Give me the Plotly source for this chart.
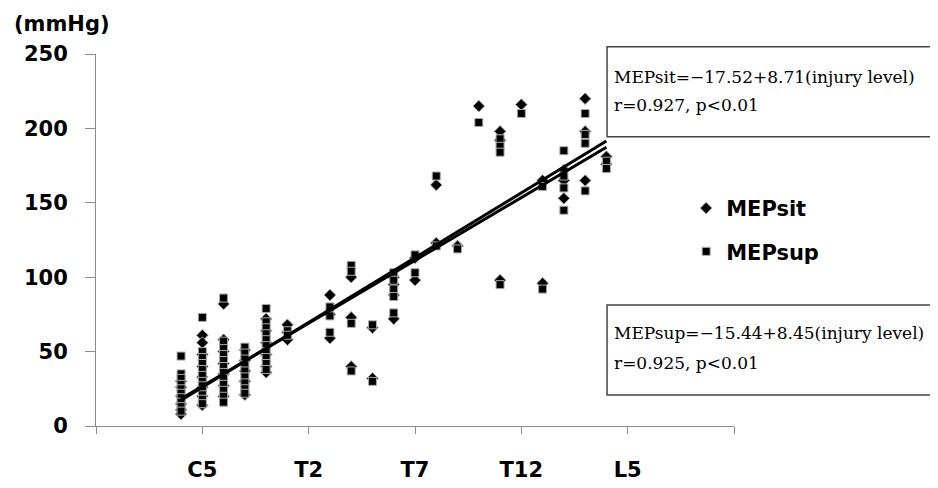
import plotly.graph_objects as go

# ---- data (injury level index: C5=5, T2=10, T7=15, T12=20, L5=25) ----
sit_levels = ([4]*6 + [5]*8 + [6]*7 + [7]*5 + [8]*6 + [9]*3 + [11]*3 + [12]*3 + [13]*2 +
              [14]*4 + [15]*2 + [16]*2 + [17] + [18] + [19]*3 + [20] + [21]*2 + [22]*3 +
              [23]*3 + [24]*2)
sit_values = ([30, 26, 20, 15, 11, 8] +
              [61, 56, 48, 40, 33, 26, 20, 14] +
              [82, 58, 50, 42, 35, 27, 20] +
              [51, 44, 37, 30, 21] +
              [72, 64, 56, 48, 40, 36] +
              [68, 63, 58] +
              [88, 75, 59] +
              [100, 73, 40] +
              [66, 32] +
              [100, 95, 88, 72] +
              [113, 98] +
              [162, 123] +
              [121] +
              [215] +
              [198, 192, 98] +
              [216] +
              [165, 96] +
              [172, 165, 153] +
              [220, 198, 165] +
              [181, 176])

sup_levels = ([4]*10 + [5]*12 + [6]*12 + [7]*9 + [8]*10 + [9]*2 + [11]*3 + [12]*4 + [13]*2 +
              [14]*5 + [15]*2 + [16]*2 + [17] + [18] + [19]*4 + [20] + [21]*2 + [22]*4 +
              [23]*4 + [24]*2)
sup_values = ([47, 35, 32, 28, 25, 22, 19, 16, 13, 10] +
              [73, 50, 46, 42, 38, 34, 30, 27, 24, 21, 18, 15] +
              [86, 57, 52, 48, 44, 40, 36, 32, 28, 24, 20, 16] +
              [53, 49, 45, 41, 37, 33, 29, 25, 22] +
              [79, 70, 66, 62, 58, 54, 50, 46, 42, 38] +
              [64, 61] +
              [80, 74, 63] +
              [108, 104, 69, 37] +
              [68, 30] +
              [103, 98, 92, 87, 76] +
              [115, 103] +
              [168, 121] +
              [119] +
              [204] +
              [193, 188, 184, 95] +
              [210] +
              [161, 92] +
              [185, 168, 160, 145] +
              [210, 196, 190, 158] +
              [178, 173])

# regression equations as reported in the figure
sit_intercept, sit_slope = -17.52, 8.71
sup_intercept, sup_slope = -15.44, 8.45
fit_range = [4, 24]

tick_positions = [0, 5, 10, 15, 20, 25, 30]
tick_labels = ["", "C5", "T2", "T7", "T12", "L5", ""]

fig = go.Figure()
fig.add_trace(go.Scatter(
    x=sit_levels, y=sit_values, mode="markers", name="MEPsit", legendgroup="sit",
    marker=dict(symbol="diamond", size=9, color="black",
                line=dict(color="#aaaaaa", width=1))))
fig.add_trace(go.Scatter(
    x=sup_levels, y=sup_values, mode="markers", name="MEPsup", legendgroup="sup",
    marker=dict(symbol="square", size=8, color="black",
                line=dict(color="#aaaaaa", width=1))))
fig.add_trace(go.Scatter(
    x=fit_range, y=[sit_intercept + sit_slope * v for v in fit_range],
    mode="lines", line=dict(color="black", width=3), showlegend=False, hoverinfo="skip"))
fig.add_trace(go.Scatter(
    x=fit_range, y=[sup_intercept + sup_slope * v for v in fit_range],
    mode="lines", line=dict(color="black", width=3), showlegend=False, hoverinfo="skip"))

tick_font = dict(family="DejaVu Sans", size=21, color="black", weight="bold")
box_font = dict(family="DejaVu Serif", size=17, color="black")

fig.update_layout(
    width=930, height=480,
    margin=dict(l=88, r=204, t=46, b=62),
    paper_bgcolor="white", plot_bgcolor="white",
    showlegend=True,
    legend=dict(x=0.925, y=0.64, xanchor="left", yanchor="top",
                font=dict(family="DejaVu Sans", size=21, color="black", weight="bold"),
                bgcolor="rgba(0,0,0,0)", tracegroupgap=13),
    xaxis=dict(range=[0, 30], tickmode="array", tickvals=tick_positions, ticktext=tick_labels,
               showgrid=False, zeroline=False, showline=True, linecolor="#8c8c8c", linewidth=1,
               ticks="outside", ticklen=7, tickcolor="#8c8c8c", tickfont=tick_font,
               ticklabelstandoff=18, automargin=False),
    yaxis=dict(range=[0, 250], tickmode="array", tickvals=[0, 50, 100, 150, 200, 250],
               showgrid=False, zeroline=False, showline=True, linecolor="#8c8c8c", linewidth=1,
               ticks="outside", ticklen=10, tickcolor="#8c8c8c", tickfont=tick_font,
               ticklabelstandoff=13, automargin=False),
    shapes=[
        dict(type="rect", xref="paper", yref="paper", x0=0.801, x1=1.3166, y0=0.7777, y1=1.0196,
             line=dict(color="#444444", width=1.5), fillcolor="white", layer="above"),
        dict(type="rect", xref="paper", yref="paper", x0=0.801, x1=1.3119, y0=0.0833, y1=0.3253,
             line=dict(color="#444444", width=1.5), fillcolor="white", layer="above"),
    ],
    annotations=[
        dict(text="(mmHg)", xref="paper", yref="paper", x=-0.132, y=1.08, xanchor="left",
             yanchor="middle", showarrow=False,
             font=dict(family="DejaVu Sans", size=21, color="black", weight="bold")),
        dict(text="MEPsit=\u221217.52+8.71(injury level)", xref="paper", yref="paper",
             x=0.8088, y=0.939, xanchor="left", yanchor="middle", showarrow=False, font=box_font),
        dict(text="r=0.927, p<0.01", xref="paper", yref="paper",
             x=0.8088, y=0.8629, xanchor="left", yanchor="middle", showarrow=False, font=box_font),
        dict(text="MEPsup=\u221215.44+8.45(injury level)", xref="paper", yref="paper",
             x=0.8088, y=0.25, xanchor="left", yanchor="middle", showarrow=False, font=box_font),
        dict(text="r=0.925, p<0.01", xref="paper", yref="paper",
             x=0.8088, y=0.1694, xanchor="left", yanchor="middle", showarrow=False, font=box_font),
    ],
)

fig.write_html("out.html")
